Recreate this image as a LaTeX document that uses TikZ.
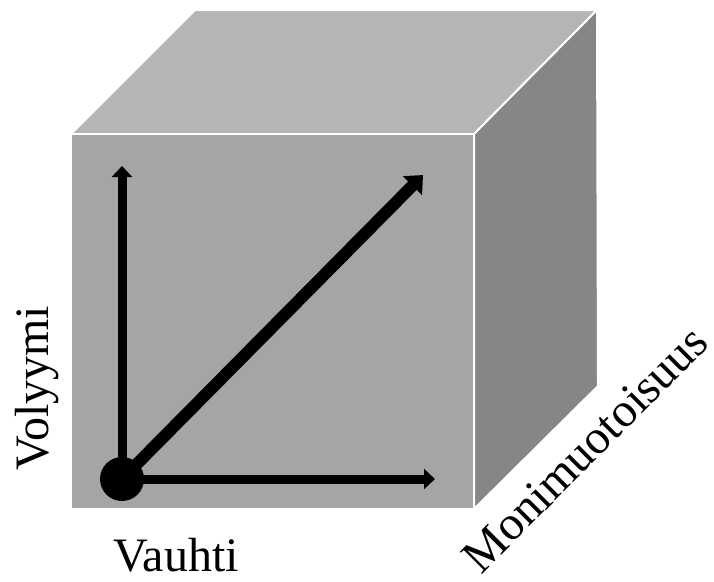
\documentclass[tikz,border=0pt]{standalone}
\usepackage{fontspec}
\setmainfont{Liberation Serif}
\usetikzlibrary{arrows.meta}
\definecolor{cubetop}{RGB}{181,181,181}
\definecolor{cubefront}{RGB}{165,165,165}
\definecolor{cubeside}{RGB}{134,134,134}

\begin{document}
\begin{tikzpicture}[x=1pt,y=-1pt,
    face/.style={draw=white,line width=2pt,line join=round},
    axis/.style={line width=9pt,-{Triangle[width=20pt,length=11pt]}},
    label/.style={font=\fontsize{48}{56}\selectfont,inner sep=0pt}]
  \useasboundingbox (0,0) rectangle (714,581);
  % cube faces
  \filldraw[face,fill=cubetop](71,134)--(195,10)--(597,10)--(474,134)--cycle;
  \filldraw[face,fill=cubeside](474,134)--(597,10)--(598,386)--(474,509)--cycle;
  \filldraw[face,fill=cubefront](71,134)rectangle(474,509);
  % axes
  \node[circle,fill=black,minimum size=44pt,inner sep=0pt] (origin) at (122,479) {};
  \coordinate (volend) at (122,166);
  \coordinate (vauend) at (435,479);
  \coordinate (monend) at (423,175);
  \draw[axis] (origin.center) -- (volend);
  \draw[axis] (origin.center) -- (vauend);
  \draw[line width=12pt,-{Triangle[width=26pt,length=15pt]}] (origin.center) -- (monend);
  % labels
  \node[label,rotate=90] (volyymi) at (37,388) {Volyymi};
  \node[label] (vauhti) at (176,555) {Vauhti};
  \node[label,rotate=45] (moni) at (585,449) {Monimuotoisuus};
\end{tikzpicture}
\end{document}
